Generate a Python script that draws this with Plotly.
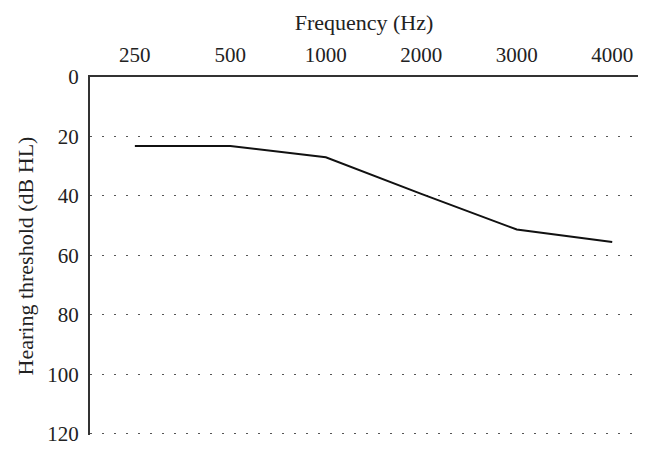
import plotly.graph_objects as go

frequencies = ["250", "500", "1000", "2000", "3000", "4000"]
threshold_db = [23.2, 23.2, 27.0, 39.3, 51.3, 55.5]
y_ticks = [0, 20, 40, 60, 80, 100, 120]

FONT = "Liberation Serif"

fig = go.Figure()
fig.add_trace(go.Scatter(
    x=frequencies, y=threshold_db, mode="lines",
    line=dict(color="#111111", width=2), showlegend=False,
))

fig.update_layout(
    width=645, height=446,
    margin=dict(l=82, r=15, t=69, b=19, autoexpand=False),
    paper_bgcolor="white", plot_bgcolor="white",
    font=dict(family=FONT, size=21, color="#222222"),
    xaxis=dict(
        type="category", side="top", automargin=False,
        range=[-0.47, 5.27],
        showgrid=False, zeroline=False,
        showline=True, linecolor="#333333", linewidth=2,
        ticks="", ticklabelstandoff=5,
        title=dict(text="Frequency (Hz)", standoff=6, font=dict(size=22)),
        tickfont=dict(size=21),
    ),
    yaxis=dict(
        automargin=False,
        autorange=False, range=[120.4, 0],
        tickvals=y_ticks, ticktext=[str(v) for v in y_ticks],
        showgrid=True, gridcolor="#555555", gridwidth=1, griddash="2px,10px",
        zeroline=False,
        showline=True, linecolor="#333333", linewidth=2,
        ticks="", ticklabelstandoff=5,
        title=dict(text="Hearing threshold (dB HL)", standoff=8, font=dict(size=22)),
        tickfont=dict(size=21),
    ),
)

fig.write_html("out.html")
